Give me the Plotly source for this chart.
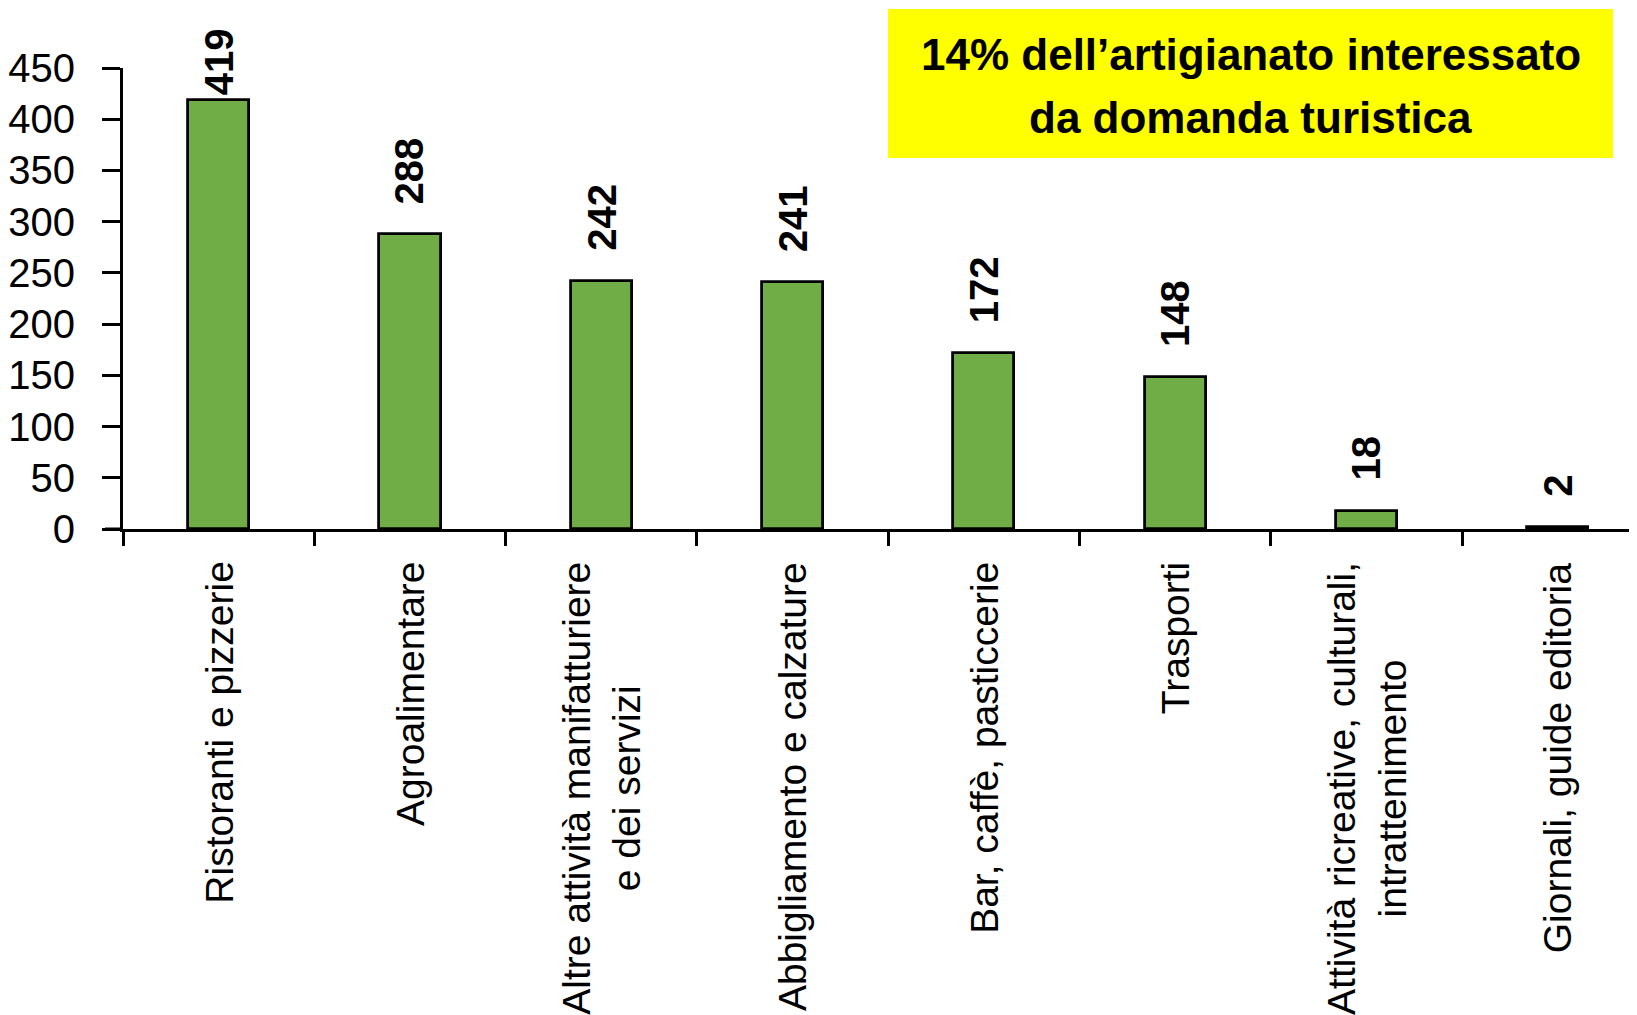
import plotly.graph_objects as go

# ---- data ----
categories = [
    "Ristoranti e pizzerie",
    "Agroalimentare",
    "Altre attività manifatturiere<br>e dei servizi",
    "Abbigliamento e calzature",
    "Bar, caffè, pasticcerie",
    "Trasporti",
    "Attività ricreative, culturali,<br>intrattenimento",
    "Giornali, guide editoria",
]
values = [419, 288, 242, 241, 172, 148, 18, 2]
y_ticks = [0, 50, 100, 150, 200, 250, 300, 350, 400, 450]
title_lines = ["14% dell’artigianato interessato", "da domanda turistica"]

# ---- layout constants (figure coords; page body adds an 8px offset) ----
W, H = 1637, 1015
ML, MR, MT, MB = 115, 0, 60, 494
YMAX = 450
FONT = "Liberation Sans, Arial, sans-serif"
plot_w = W - ML - MR
plot_h = H - MT - MB
cat_px = 191.3
x_hi = -0.5 + plot_w / cat_px

fig = go.Figure()
fig.add_trace(go.Bar(
    x=categories, y=values, width=0.32,
    marker=dict(color="#70AD47", line=dict(color="black", width=2.8)),
    hoverinfo="skip",
))

annotations = []
px_per_unit = plot_h / YMAX
label_len = 66
top_limit = 23
for c, v in zip(categories, values):
    bar_top = MT + (YMAX - v) * px_per_unit
    shift = min(28, bar_top - top_limit - label_len)
    annotations.append(dict(
        x=c, y=v, xref="x", yref="y", text=str(v), showarrow=False,
        textangle=-90, xanchor="center", yanchor="bottom", yshift=shift,
        font=dict(family=FONT, size=40, color="black", weight="bold"),
    ))
    annotations.append(dict(
        x=c, y=0, xref="x", yref="paper", text=c, showarrow=False,
        textangle=-90, xanchor="center", yanchor="top", yshift=-31,
        align="center",
        font=dict(family=FONT, size=39, color="black"),
    ))

# title box
bx0, bx1, by0, by1 = 880, 1605, 1, 150
line_centers = [46, 109]
for txt, cy in zip(title_lines, line_centers):
    annotations.append(dict(
        x=((bx0 + bx1) / 2 - ML) / plot_w, y=(MT + plot_h - cy) / plot_h,
        xref="paper", yref="paper", text="<b>" + txt + "</b>", showarrow=False,
        xanchor="center", yanchor="middle", align="center",
        font=dict(family=FONT, size=44, color="black"),
    ))

shapes = [
    dict(type="rect", xref="paper", yref="paper",
         x0=(bx0 - ML) / plot_w, x1=(bx1 - ML) / plot_w,
         y0=(MT + plot_h - by1) / plot_h, y1=(MT + plot_h - by0) / plot_h,
         fillcolor="#FFFF00", line=dict(width=0), layer="below"),
    dict(type="line", xref="paper", yref="y", x0=-18 / plot_w, x1=0, y0=0, y1=0,
         line=dict(color="black", width=3)),
]

fig.update_layout(
    width=W, height=H, autosize=False,
    margin=dict(l=ML, r=MR, t=MT, b=MB, pad=0),
    paper_bgcolor="white", plot_bgcolor="white",
    showlegend=False,
    annotations=annotations, shapes=shapes,
    bargap=0,
)
fig.update_xaxes(
    type="category", range=[-0.5, x_hi], showline=True, linecolor="black", linewidth=3,
    ticks="outside", tickson="boundaries", ticklen=14, tickwidth=3, tickcolor="black",
    showticklabels=False, showgrid=False, zeroline=False, fixedrange=True,
    automargin=False,
)
fig.update_yaxes(
    range=[0, YMAX], tickvals=y_ticks, showline=True, linecolor="black", linewidth=3,
    ticks="outside", ticklen=18, tickwidth=3, tickcolor="black",
    tickfont=dict(family=FONT, size=40, color="black"), ticklabelstandoff=19,
    showgrid=False, zeroline=False, fixedrange=True, automargin=False,
)

fig.write_html("out.html")
